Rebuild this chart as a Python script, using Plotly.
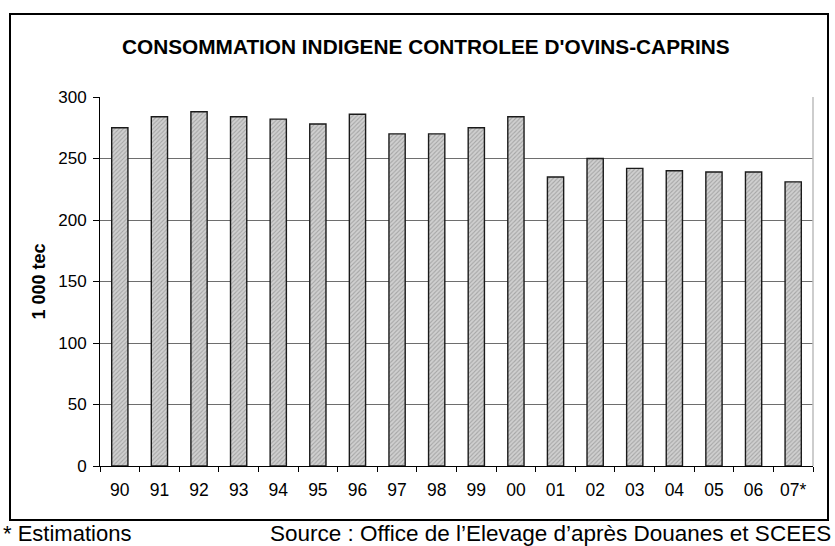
import plotly.graph_objects as go

years = ["90", "91", "92", "93", "94", "95", "96", "97", "98", "99",
         "00", "01", "02", "03", "04", "05", "06", "07*"]
consommation = [275, 284, 288, 284, 282, 278, 286, 270, 270, 275,
                284, 235, 250, 242, 240, 239, 239, 231]
y_ticks = [0, 50, 100, 150, 200, 250, 300]

title_text = "CONSOMMATION INDIGENE CONTROLEE D'OVINS-CAPRINS"
y_title = "1 000 tec"
note_left = "* Estimations"
note_right = "Source : Office de l\u2019Elevage d\u2019apr\u00e8s Douanes et SCEES"

FONT = "Liberation Sans, Arial, sans-serif"

fig = go.Figure()
fig.add_trace(go.Bar(
    x=years, y=consommation,
    marker=dict(
        color="#c4c4c4",
        line=dict(color="#1a1a1a", width=1.4),
        pattern=dict(shape="/", fgcolor="#7a7a7a", bgcolor="#d0d0d0", size=3, solidity=0.35),
    ),
    width=0.41,
    hoverinfo="x+y",
))

W, H = 835, 546
L, R, T, B = 100, 22, 97, 80
pw = W - L - R
ph = H - T - B

def px(x):
    return (x - L) / pw

def py(y):
    return (H - B - y) / ph

fig.update_layout(
    width=W, height=H,
    margin=dict(l=L, r=R, t=T, b=B),
    paper_bgcolor="white", plot_bgcolor="white",
    font=dict(family=FONT, color="black", size=16),
    showlegend=False,
    xaxis=dict(
        type="category",
        showline=True, linecolor="black", linewidth=1,
        ticks="outside", ticklen=5, tickcolor="black", tickwidth=1,
        tickson="boundaries",
        ticklabelstandoff=8,
        tickfont=dict(size=17.5, family=FONT),
        showgrid=False, zeroline=False,
    ),
    yaxis=dict(
        range=[0, 300], tickvals=y_ticks,
        showline=True, linecolor="black", linewidth=1,
        ticks="outside", ticklen=6, tickcolor="black", tickwidth=1,
        ticklabelstandoff=3,
        tickfont=dict(size=17, family=FONT),
        showgrid=True, gridcolor="#6e6e6e", gridwidth=1,
        zeroline=False,
    ),
    annotations=[
        dict(text="<b>" + title_text + "</b>", xref="paper", yref="paper",
             x=px(426), y=py(47), xanchor="center", yanchor="middle",
             showarrow=False, font=dict(size=20.8, family=FONT)),
        dict(text="<b>" + y_title + "</b>", xref="paper", yref="paper",
             x=px(38), y=0.5, xanchor="center", yanchor="middle", textangle=-90,
             showarrow=False, font=dict(size=18, family=FONT)),
        dict(text=note_left, xref="paper", yref="paper",
             x=px(1), y=py(533), xanchor="left", yanchor="middle",
             showarrow=False, font=dict(size=22, family=FONT)),
        dict(text=note_right, xref="paper", yref="paper",
             x=px(833), y=py(533), xanchor="right", yanchor="middle",
             showarrow=False, font=dict(size=22.5, family=FONT)),
    ],
    shapes=[
        dict(type="line", xref="paper", yref="paper", x0=1, x1=1, y0=0, y1=1,
             line=dict(color="#bdbdbd", width=1.5)),
        dict(type="rect", xref="paper", yref="paper",
             x0=px(10), x1=px(828), y0=py(520), y1=py(14),
             line=dict(color="black", width=2), fillcolor="rgba(0,0,0,0)"),
    ],
)

fig.write_html(
    "out.html",
    config={"displayModeBar": False},
    post_script="document.body.style.margin='0px';document.body.style.overflow='hidden';",
)
